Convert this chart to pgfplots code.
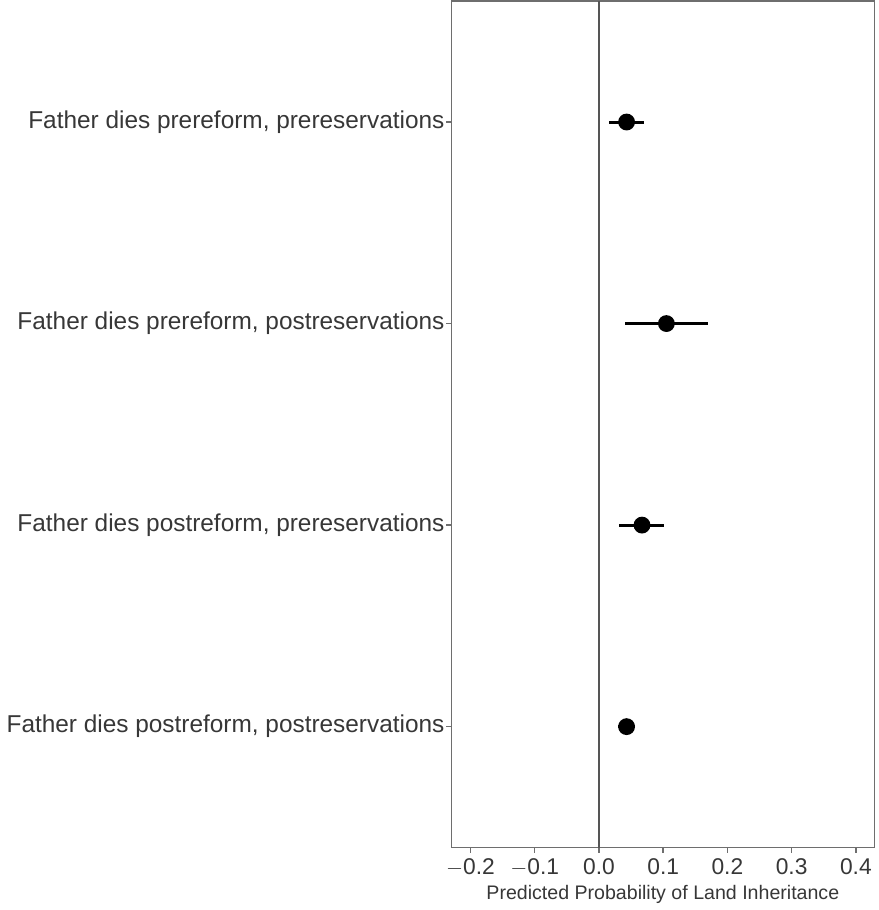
\documentclass[border=0pt]{standalone}
\usepackage{fontspec}
\setmainfont{Liberation Sans}
\usepackage{pgfplots}
\pgfplotsset{compat=1.18}
\definecolor{framegray}{RGB}{110,110,110}
\definecolor{zerogray}{RGB}{85,85,85}
\definecolor{txtgray}{RGB}{55,55,55}
\begin{document}
\begin{tikzpicture}
\begin{axis}[
  scale only axis,
  width=211.5pt, height=423.5pt,
  xmin=-0.2297, xmax=0.4286,
  ymin=0.4, ymax=4.6,
  xtick={-0.2,-0.1,0,0.1,0.2,0.3,0.4},
  xticklabels={$-$0.2,$-$0.1,0.0,0.1,0.2,0.3,0.4},
  ytick={1,2,3,4},
  yticklabels={{Father dies postreform, postreservations},
               {Father dies postreform, prereservations},
               {Father dies prereform, postreservations},
               {Father dies prereform, prereservations}},
  yticklabel style={font=\fontsize{12.2pt}{14pt}\selectfont, text=txtgray},
  xticklabel style={font=\fontsize{11.4pt}{13pt}\selectfont, text=txtgray},
  xlabel={Predicted Probability of Land Inheritance},
  xlabel style={font=\fontsize{9.8pt}{11pt}\selectfont, text=txtgray, yshift=2.5pt},
  axis line style={framegray, line width=0.7pt},
  tick style={framegray, line width=0.7pt},
  tick align=outside,
  major tick length=2.5pt,
  xtick pos=bottom, ytick pos=left,
  xticklabel shift=-0.5pt,
  yticklabel shift=-2.5pt,
  clip=false,
]
\addplot[zerogray, line width=1.1pt, forget plot] coordinates {(0,0.4) (0,4.6)};
\addplot[black, line width=1.4pt, only marks, mark=*, mark size=3.5pt,
  error bars/.cd, x dir=both, x explicit,
  error mark=none,
  error bar style={line width=1.5pt, black}]
 coordinates {
  (0.043,4) += (0.027,0) -= (0.027,0)
  (0.105,3) += (0.065,0) -= (0.065,0)
  (0.067,2) += (0.035,0) -= (0.036,0)
  (0.043,1) += (0.013,0) -= (0.013,0)
 };
\end{axis}
\path ([xshift=2pt]current axis.east);
\end{tikzpicture}
\end{document}
